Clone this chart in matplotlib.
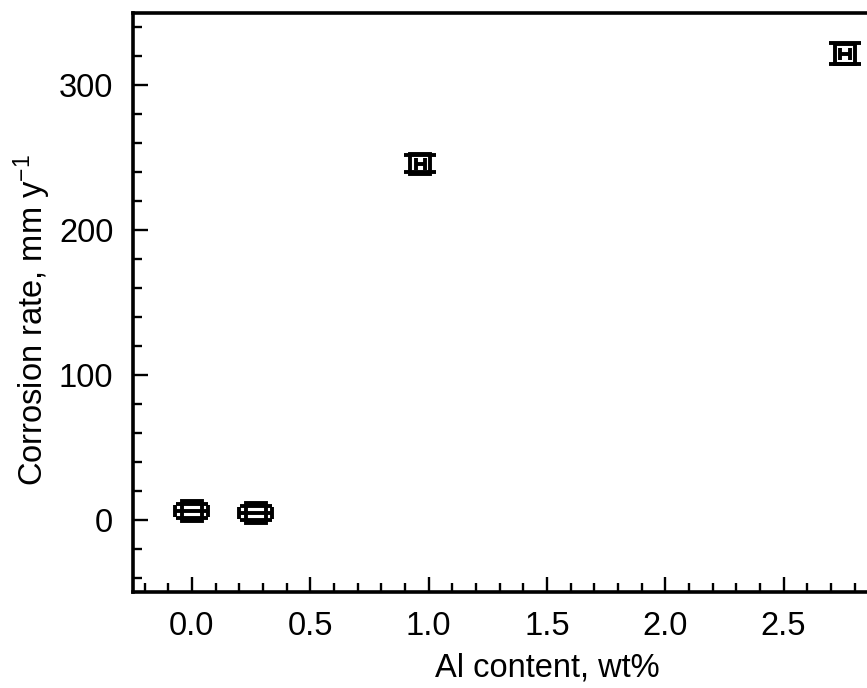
import matplotlib
matplotlib.use("Agg")
import matplotlib.pyplot as plt
from matplotlib.ticker import MultipleLocator

plt.rcParams['font.family'] = ['Liberation Sans', 'DejaVu Sans']
plt.rcParams['mathtext.default'] = 'regular'

al_content = [0.0, 0.27, 0.965, 2.76]
corrosion_rate = [6.0, 4.5, 246.0, 322.0]
rate_err = [5.0, 5.0, 6.0, 7.0]
al_err = [0.07, 0.07, 0.02, 0.02]
x_ticks = [0.0, 0.5, 1.0, 1.5, 2.0, 2.5]
x_ticklabels = ['0.0', '0.5', '1.0', '1.5', '2.0', '2.5']
y_ticks = [0, 100, 200, 300]

fig = plt.figure(figsize=(8.67, 6.88), dpi=100)
# axes extends past the right edge of the figure (as in reference, cropped)
left, bottom = 132.7 / 867, 1 - 592 / 688
top = 1 - 13 / 688
px_per_unit = 236.7
xmin, xmax = -0.25, 3.25
width = (xmax - xmin) * px_per_unit / 867
ax = fig.add_axes([left, bottom, width, top - bottom])

# markers
ax.plot(al_content, corrosion_rate, linestyle='none', marker='s', markersize=14.5,
        markerfacecolor='none', markeredgecolor='black', markeredgewidth=2.8, zorder=3)
# vertical error caps
ax.errorbar(al_content, corrosion_rate, yerr=rate_err, fmt='none', ecolor='black',
            elinewidth=0, capsize=11.5, capthick=2.8, zorder=4)
# horizontal error bars
ax.errorbar(al_content, corrosion_rate, xerr=al_err, fmt='none', ecolor='black',
            elinewidth=2.8, capsize=4, capthick=2.8, zorder=4)

ax.set_xlim(xmin, xmax)
ax.set_ylim(-50, 350)
ax.xaxis.set_minor_locator(MultipleLocator(0.1))
ax.yaxis.set_minor_locator(MultipleLocator(20))
ax.set_xticks(x_ticks)
ax.set_xticklabels(x_ticklabels)
ax.set_yticks(y_ticks)

ax.tick_params(which='both', direction='in', top=False, right=False, width=1.7, labelsize=23.5)
ax.tick_params(which='major', length=10.5, pad=14)
ax.tick_params(which='minor', length=6.5)
for s in ax.spines.values():
    s.set_linewidth(2.6)

ax.set_xlabel('Al content, wt%', fontsize=23.5, labelpad=7)
ax.set_ylabel('Corrosion rate, mm y$^{-1}$', fontsize=23.5)
ax.yaxis.set_label_coords(-0.096, 0.47)

fig.savefig('out.png', dpi=100)
